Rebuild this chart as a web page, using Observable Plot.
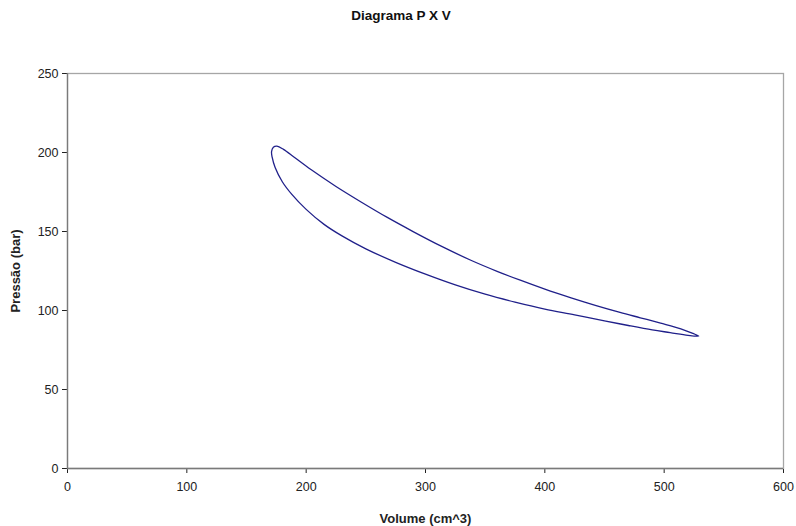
<!DOCTYPE html>
<html>
<head>
<meta charset="utf-8">
<script src="https://cdn.jsdelivr.net/npm/d3@7"></script>
<script src="https://cdn.jsdelivr.net/npm/@observablehq/plot@0.6"></script>
<style>
  html, body { margin: 0; padding: 0; background: #fff; }
  #wrap { width: 796px; height: 526px; position: relative; font-family: "Liberation Sans", Arial, sans-serif; }
  #title { position: absolute; left: 0; top: 8px; width: 802px; text-align: center; font-weight: bold; font-size: 13.5px; color: #111; }
  #chart { position: absolute; left: 0; top: 0; }
  g[aria-label="x-axis label"] text, g[aria-label="y-axis label"] text { font-weight: bold; font-size: 13px; }
</style>
</head>
<body>
<div id="wrap">
  <div id="chart"></div>
  <div id="title">Diagrama P X V</div>
</div>
<script>
// Closed P-V loop (upper branch left→right, then lower branch right→left)
const volume = [
  175.5, 181, 190, 204, 225, 246, 268, 290, 314, 338, 360, 380, 400, 422, 443, 463, 480, 497, 514, 524,
  529,
  520, 505, 490, 470, 450, 425, 400, 375, 350, 325, 300, 275, 250, 230, 215, 200, 188, 180, 174,
  171.5, 171, 172.5
];
const pressure = [
  204, 202, 197, 189.2, 178.5, 168.7, 158.9, 149.8, 140.4, 131.8, 124.8, 119, 113.5, 108, 103.1, 98.8, 95.4, 92, 88.4, 85.5,
  83.8,
  84.3, 86, 87.7, 90.5, 93.5, 97.3, 100.9, 105.3, 110.3, 116.2, 123, 130.5, 139, 147.2, 154.5, 164, 173.5, 181.5, 190.5,
  197, 200.5, 203.3
];
const xTicks = [0, 100, 200, 300, 400, 500, 600];
const yTicks = [0, 50, 100, 150, 200, 250];
const xLabel = "Volume (cm^3)";
const yLabel = "Pressão (bar)";

const data = volume.map((v, i) => ({V: v, P: pressure[i]}));

const chart = Plot.plot({
  width: 796,
  height: 526,
  marginTop: 73,
  marginBottom: 58,
  marginLeft: 67,
  marginRight: 13,
  style: { fontFamily: "'Liberation Sans', Arial, sans-serif", fontSize: "12.5px", color: "#222", background: "#fff" },
  x: { domain: [0, 600], ticks: xTicks, tickSize: 5, tickPadding: 9, label: xLabel, labelAnchor: "center", labelOffset: 54, labelArrow: "none" },
  y: { domain: [0, 250], ticks: yTicks, tickSize: 5, tickPadding: 4, label: yLabel, labelAnchor: "center", labelOffset: 57, labelArrow: "none" },
  marks: [
    Plot.frame({stroke: "#a6a6a6", strokeWidth: 1.3}),
    Plot.ruleX([0], {stroke: "#7a7a7a", strokeWidth: 1.3}),
    Plot.ruleY([0], {stroke: "#7a7a7a", strokeWidth: 1.3}),
    Plot.line(data, {x: "V", y: "P", curve: "catmull-rom-closed", stroke: "#20208a", strokeWidth: 1.3})
  ]
});
document.getElementById("chart").appendChild(chart);
</script>
</body>
</html>
